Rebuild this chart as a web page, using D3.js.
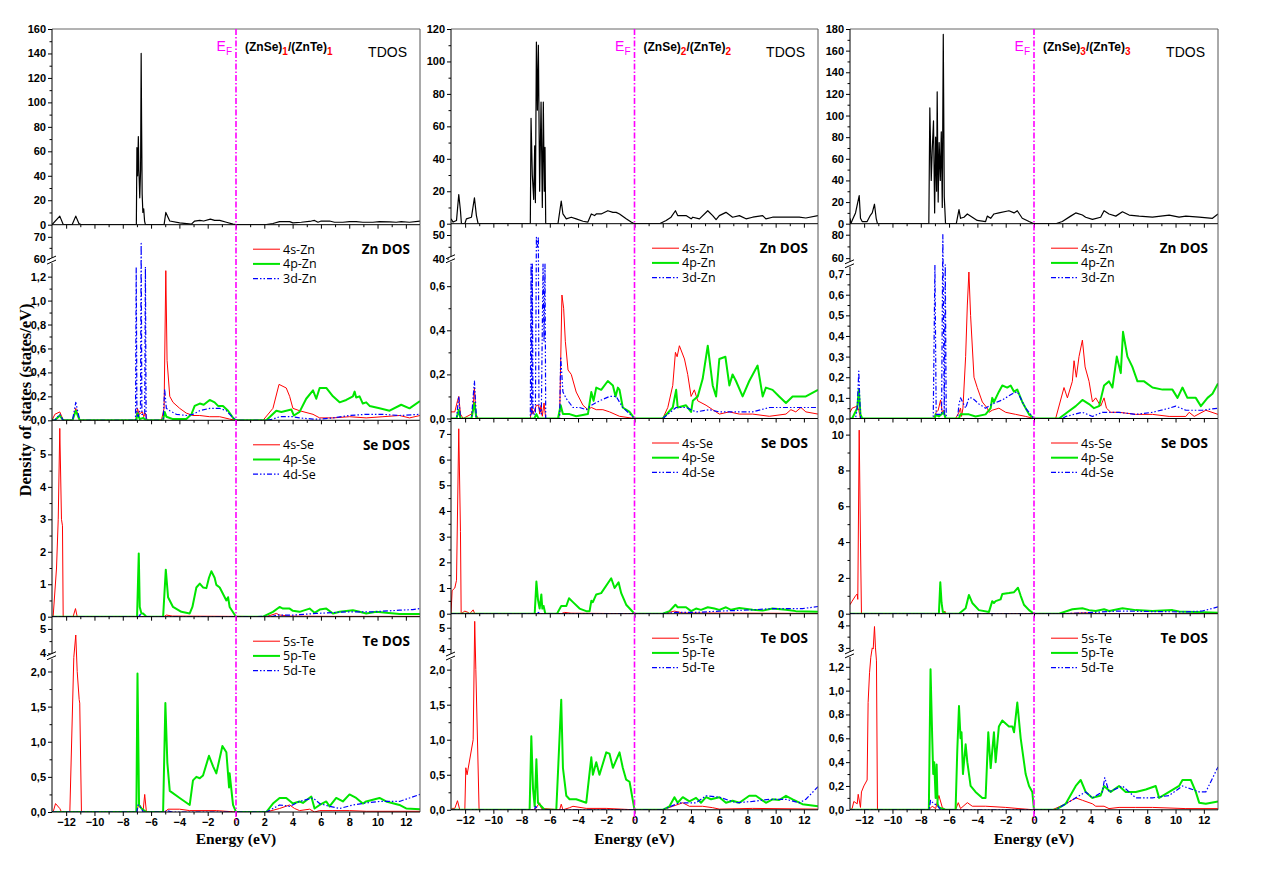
<!DOCTYPE html>
<html>
<head>
<meta charset="utf-8">
<script src="https://cdn.jsdelivr.net/npm/d3@7"></script>
<style>
  body { margin: 0; background: #fff; }
  svg { display: block; }
</style>
</head>
<body>
<svg id="chart" width="1269" height="888"></svg>
<script>
// ---- data: [energy (eV), DOS] ----

// (ZnSe)1/(ZnTe)1
var tdos1 = [[-13,0],[-12.45,7],[-12.2,0],[-11.58,0],[-11.32,7],[-11.1,1],[-10.92,0],[-7.04,0],[-7.0,63],[-6.95,40],[-6.9,72],[-6.86,45],[-6.8,22],[-6.74,45],[-6.7,140],[-6.67,83],[-6.63,25],[-6.58,10],[-6.52,13],[-6.46,3],[-6.4,0],[-5.08,0],[-4.96,10],[-4.68,3],[-3.98,1.5],[-3.15,0.5],[-2.92,3],[-2.56,3.5],[-2.28,3],[-1.81,4.5],[-1.51,3.5],[-1.15,3.5],[-0.68,2],[-0.21,0.5],[0,0],[2.14,0],[2.61,1],[3.08,2.5],[3.79,2.5],[4.02,1.5],[4.61,2],[5.32,3],[5.55,3.5],[5.79,2],[6.02,3],[6.61,3],[6.96,2],[7.55,2],[8.02,2.5],[8.49,2.5],[8.96,2],[9.67,2],[10.14,2.5],[10.85,2.3],[11.32,2],[11.67,2.5],[12.26,2],[13,3]];
var zn4s1 = [[-13,0],[-12.8,0.05],[-12.45,0.07],[-12.2,0],[-11.55,0],[-11.32,0.1],[-11.04,0],[-7.08,0],[-6.96,0.1],[-6.85,0.05],[-6.61,0.07],[-6.52,0.03],[-6.4,0.06],[-6.28,0],[-5.27,0],[-5.08,0.1],[-4.96,1.25],[-4.87,0.5],[-4.68,0.2],[-4.45,0.15],[-3.98,0.1],[-3.51,0.06],[-3.04,0.04],[-2.56,0.04],[-1.86,0.03],[-1.15,0.03],[-0.45,0.01],[0,0],[1.91,0],[2.61,0.1],[3.04,0.3],[3.55,0.27],[3.79,0.2],[4.02,0.1],[4.49,0.08],[5.44,0.05],[5.91,0.02],[6.85,0.02],[8.02,0.03],[9.2,0.02],[10.38,0.03],[11.55,0.04],[12.26,0.02],[13,0.04]];
var zn4p1 = [[-13,0],[-12.8,0],[-12.45,0.04],[-12.21,0],[-11.55,0],[-11.32,0.08],[-11.04,0],[-7.04,0],[-6.96,0.06],[-6.8,0.01],[-6.56,0.02],[-6.33,0],[-5.15,0],[-5.04,0.07],[-4.92,0.03],[-4.45,0.01],[-3.51,0.01],[-3.15,0.05],[-2.92,0.12],[-2.56,0.14],[-2.28,0.13],[-1.86,0.17],[-1.51,0.15],[-1.27,0.12],[-0.92,0.12],[-0.56,0.08],[-0.21,0.02],[0,0],[2.14,0],[2.85,0.08],[3.2,0.07],[3.91,0.09],[4.09,0.04],[4.49,0.07],[4.96,0.18],[5.44,0.25],[5.67,0.18],[5.91,0.27],[6.38,0.27],[6.85,0.2],[7.32,0.15],[7.79,0.17],[8.26,0.2],[8.38,0.24],[8.49,0.19],[8.73,0.2],[8.96,0.14],[9.2,0.15],[9.44,0.12],[10.14,0.1],[10.85,0.08],[11.67,0.13],[12.26,0.1],[13,0.16]];
var zn3d1 = [[-13,0],[-12.8,0],[-12.45,0.05],[-12.21,0],[-11.55,0],[-11.32,0.15],[-11.04,0],[-7.1,0],[-7.05,1.28],[-7.0,0.05],[-6.9,0.03],[-6.75,0.1],[-6.7,67],[-6.65,0.05],[-6.45,0.05],[-6.4,1.28],[-6.35,0],[-5.15,0],[-5.04,0.26],[-4.92,0.1],[-4.68,0.08],[-4.21,0.05],[-3.51,0.04],[-3.04,0.05],[-2.56,0.08],[-1.86,0.1],[-1.15,0.1],[-0.68,0.08],[-0.45,0.05],[0,0],[2.14,0],[2.61,0.01],[3.08,0.03],[4.02,0.03],[4.49,0.02],[5.44,0.01],[5.91,0.01],[6.85,0.02],[8.02,0.04],[9.2,0.05],[10.38,0.05],[11.55,0.04],[13,0.05]];
var se4s1 = [[-13,0],[-12.92,0],[-12.68,1.5],[-12.56,3],[-12.45,5.8],[-12.33,3],[-12.26,2.8],[-12.21,0],[-11.51,0],[-11.34,0.25],[-11.22,0],[-5.1,0],[-4.92,0.05],[-4.5,0.02],[0,0.01],[2.14,0],[2.85,0.1],[3.08,0.05],[3.79,0.02],[6.85,0.01],[13,0.01]];
var se4p1 = [[-13,0],[-6.99,0],[-6.87,1.95],[-6.8,0.3],[-6.68,0.1],[-6.56,0.1],[-6.45,0.05],[-6.33,0],[-5.15,0],[-4.96,1.45],[-4.8,0.6],[-4.45,0.3],[-3.86,0.15],[-3.27,0.1],[-3.08,0.3],[-2.8,0.9],[-2.56,1.02],[-2.33,0.9],[-2.09,0.88],[-1.91,1.2],[-1.74,1.4],[-1.51,1.2],[-1.39,0.98],[-1.15,0.9],[-0.68,0.5],[-0.56,0.6],[-0.45,0.3],[0,0],[1.91,0],[2.61,0.15],[3.08,0.3],[3.32,0.25],[3.79,0.25],[4.02,0.18],[4.49,0.15],[5.2,0.25],[5.55,0.12],[5.91,0.22],[6.38,0.25],[6.85,0.1],[7.32,0.15],[8.26,0.2],[8.73,0.15],[9.2,0.1],[9.91,0.15],[10.61,0.12],[11.55,0.08],[13,0.08]];
var se4d1 = [[-13,0],[-6.85,0],[-6.8,0.1],[-6.7,0],[0,0],[2.61,0.01],[2.85,0.05],[4.02,0.05],[5.67,0.1],[7.79,0.15],[9.67,0.15],[11.55,0.2],[12.49,0.22],[13,0.25]];
var te5s1 = [[-13,0],[-12.92,0],[-12.75,0.12],[-12.45,0.05],[-12.33,0],[-11.74,0],[-11.46,2.2],[-11.32,4.75],[-11.22,2.0],[-11.08,1.6],[-11.04,1.55],[-10.92,0],[-7.0,0],[-6.92,0.08],[-6.8,0.1],[-6.56,0.02],[-6.45,0.25],[-6.33,0],[-5.04,0],[-4.8,0.04],[-3.98,0.04],[-3.27,0.02],[-1.39,0.02],[0,0],[2.14,0],[3.08,0.05],[3.79,0.1],[4.14,0.05],[4.49,0.02],[5.2,0.04],[5.55,0],[5.91,0.02],[6.85,0.02],[8.02,0.02],[9.2,0.01],[13,0.01]];
var te5p1 = [[-13,0],[-7.04,0],[-6.96,1.97],[-6.85,0.1],[-6.68,0.05],[-6.33,0],[-5.15,0],[-4.99,1.55],[-4.85,0.7],[-4.68,0.3],[-3.98,0.2],[-3.27,0.1],[-3.04,0.45],[-2.8,0.5],[-2.56,0.48],[-2.33,0.52],[-1.91,0.8],[-1.62,0.65],[-1.39,0.55],[-0.96,0.94],[-0.68,0.85],[-0.49,0.35],[-0.45,0.55],[-0.21,0.1],[0,0],[2.14,0],[2.61,0.12],[3.08,0.2],[3.55,0.2],[4.02,0.12],[4.49,0.15],[4.73,0.13],[5.32,0.22],[5.55,0.05],[5.91,0.1],[6.38,0.15],[6.61,0.08],[7.08,0.2],[7.55,0.15],[8.02,0.25],[8.49,0.2],[8.96,0.12],[9.2,0.15],[10.14,0.2],[10.61,0.15],[11.55,0.1],[12.02,0.05],[13,0.04]];
var te5d1 = [[-13,0],[-7.0,0],[-6.92,0.1],[-6.68,0.05],[-6.56,0],[-5.04,0],[-4.92,0.02],[-4.5,0],[0,0],[2.14,0],[3.08,0.1],[3.79,0.08],[4.49,0.15],[5.44,0.2],[5.91,0.12],[6.61,0.08],[7.32,0.05],[8.26,0.1],[9.2,0.13],[10.14,0.15],[11.55,0.15],[12.26,0.2],[13,0.25]];

// (ZnSe)2/(ZnTe)2
var tdos2 = [[-13,3],[-12.85,1],[-12.61,2],[-12.45,18],[-12.33,8],[-12.26,0],[-12.02,0],[-11.91,3],[-11.55,4],[-11.34,16],[-11.2,5],[-11.08,0],[-7.38,0],[-7.33,65],[-7.24,30],[-7.14,15],[-7.07,48],[-7.02,13],[-6.95,112],[-6.88,70],[-6.81,110],[-6.72,20],[-6.62,75],[-6.53,10],[-6.46,75],[-6.39,20],[-6.34,47],[-6.29,0],[-5.42,0],[-5.19,14],[-5.07,6],[-4.83,3],[-4.48,4],[-4.13,3],[-3.65,1.5],[-3.3,1],[-3.06,6],[-2.83,5],[-2.71,6],[-2.36,6],[-1.89,8],[-1.53,7],[-1.3,7],[-1.06,6],[-0.59,3],[-0.24,1],[0,0],[1.77,0],[2.24,2],[2.59,4],[2.9,8],[3.06,5],[3.65,5],[4.01,3],[4.13,4],[4.6,3],[5.19,8],[5.54,5],[5.78,2.5],[6.01,5],[6.48,7],[6.95,4],[7.43,5],[7.9,3],[8.37,4],[9.08,5],[9.31,3],[9.78,4],[10.73,4],[11.67,4],[12.14,3.5],[13,5]];
var zn4s2 = [[-13,0.03],[-12.73,0.03],[-12.54,0.08],[-12.45,0.1],[-12.33,0.02],[-12.14,0],[-11.55,0.02],[-11.43,0.05],[-11.34,0.14],[-11.24,0.02],[-11.08,0],[-7.38,0],[-7.28,0.05],[-7.19,0.02],[-6.95,0.06],[-6.79,0.06],[-6.72,0.02],[-6.62,0.06],[-6.53,0.01],[-6.41,0.07],[-6.29,0],[-5.42,0],[-5.3,0.02],[-5.14,0.56],[-5.02,0.5],[-4.9,0.35],[-4.71,0.22],[-4.48,0.2],[-4.13,0.12],[-3.65,0.06],[-3.3,0.04],[-3.06,0.05],[-2.71,0.04],[-2.24,0.04],[-1.77,0.03],[-1.06,0.01],[0,0],[2.0,0],[2.36,0.05],[2.71,0.15],[2.9,0.3],[3.02,0.28],[3.18,0.33],[3.54,0.27],[3.77,0.2],[4.01,0.1],[4.24,0.13],[4.48,0.08],[5.07,0.06],[5.54,0.04],[6.01,0.02],[6.72,0.03],[7.43,0.02],[8.37,0.02],[9.55,0.01],[10.73,0.02],[11.08,0.04],[11.43,0.03],[11.79,0.05],[12.14,0.03],[13,0.02]];
var zn4p2 = [[-13,0],[-12.61,0],[-12.45,0.04],[-12.33,0],[-11.55,0],[-11.34,0.07],[-11.2,0],[-7.1,0],[-6.95,0.02],[-6.8,0],[-5.42,0],[-5.23,0.06],[-5.07,0.02],[-4.6,0.02],[-4.13,0.01],[-3.3,0.02],[-3.06,0.12],[-2.9,0.08],[-2.71,0.14],[-2.36,0.13],[-1.89,0.17],[-1.53,0.15],[-1.34,0.1],[-1.18,0.14],[-1.06,0.13],[-0.83,0.05],[-0.35,0.03],[0,0],[2.0,0],[2.71,0.05],[2.95,0.13],[3.06,0.05],[3.65,0.06],[4.01,0.03],[4.13,0.08],[4.48,0.1],[4.83,0.18],[5.19,0.33],[5.54,0.15],[5.78,0.1],[6.01,0.27],[6.44,0.28],[6.72,0.15],[6.95,0.2],[7.19,0.17],[7.66,0.1],[8.13,0.17],[8.72,0.24],[9.08,0.1],[9.31,0.14],[9.78,0.13],[10.25,0.1],[10.73,0.07],[11.2,0.1],[12.14,0.1],[13,0.13]];
var zn3d2 = [[-13,0],[-12.61,0],[-12.45,0.1],[-12.33,0],[-11.55,0],[-11.34,0.17],[-11.2,0],[-7.38,0],[-7.33,0.7],[-7.28,0.02],[-7.24,0.7],[-7.19,0.02],[-7.02,0.02],[-6.95,49],[-6.88,45],[-6.81,49],[-6.77,0.05],[-6.6,0.02],[-6.48,0.7],[-6.41,0.35],[-6.34,0.7],[-6.29,0],[-5.3,0],[-5.23,0.28],[-5.07,0.12],[-4.83,0.09],[-4.36,0.05],[-3.89,0.05],[-3.42,0.04],[-3.06,0.06],[-2.48,0.08],[-1.77,0.1],[-1.3,0.1],[-0.83,0.05],[0,0],[2.0,0],[2.95,0.05],[3.65,0.05],[4.36,0.03],[5.3,0.04],[6.01,0.03],[7.19,0.03],[8.37,0.03],[9.55,0.05],[10.73,0.05],[13,0.05]];
var se4s2 = [[-13,0],[-12.92,0.9],[-12.73,1.0],[-12.61,1.3],[-12.45,7.2],[-12.33,3.2],[-12.28,0],[-12.02,0.1],[-11.79,0.05],[-11.67,0],[-11.43,0.15],[-11.32,0],[-5.2,0],[-4.95,0.05],[-4.5,0.02],[0,0],[2.0,0],[2.83,0.1],[3.42,0.03],[13,0.01]];
var se4p2 = [[-13,0],[-7.07,0],[-6.95,1.25],[-6.84,0.55],[-6.72,0.2],[-6.6,0.75],[-6.53,0.2],[-6.44,0.3],[-6.32,0],[-5.49,0],[-5.19,0.3],[-4.83,0.3],[-4.64,0.6],[-4.36,0.45],[-3.89,0.2],[-3.42,0.1],[-3.18,0.1],[-3.06,0.5],[-2.95,0.45],[-2.71,0.75],[-2.36,0.8],[-1.65,1.38],[-1.41,1.0],[-1.13,1.22],[-0.94,0.8],[-0.59,0.35],[0,0],[2.0,0],[2.48,0.1],[2.9,0.35],[3.06,0.25],[3.65,0.25],[4.01,0.1],[4.36,0.2],[4.71,0.15],[5.19,0.25],[5.66,0.2],[6.01,0.15],[6.48,0.25],[6.84,0.15],[7.43,0.22],[8.37,0.15],[9.08,0.12],[9.78,0.2],[10.73,0.15],[11.43,0.1],[13,0.08]];
var se4d2 = [[-13,0],[-6.9,0],[-6.8,0.05],[-6.7,0],[0,0],[2.0,0],[2.9,0.05],[4.36,0.05],[6.01,0.1],[8.37,0.15],[9.78,0.2],[11.9,0.2],[13,0.28]];
var te5s2 = [[-13,0],[-12.92,0.02],[-12.73,0.02],[-12.54,0.13],[-12.38,0],[-12.02,0],[-11.95,0.6],[-11.86,0.5],[-11.43,1.0],[-11.32,5.3],[-11.24,2.0],[-11.01,0],[-7.07,0],[-6.72,0.1],[-6.6,0.02],[-5.3,0],[-5.19,0.08],[-5.07,0],[-4.6,0.03],[-4.36,0.05],[-3.42,0.02],[-2.0,0.02],[0,0],[2.0,0],[2.71,0.05],[3.42,0.1],[3.89,0.05],[4.83,0.05],[5.54,0.03],[6.01,0.01],[8.37,0.02],[13,0.01]];
var te5p2 = [[-13,0],[-7.43,0],[-7.31,1.05],[-7.19,0.3],[-7.07,0.05],[-6.95,0.72],[-6.84,0.1],[-6.6,0.05],[-6.37,0],[-5.54,0],[-5.19,1.57],[-5.07,0.6],[-4.83,0.2],[-4.6,0.15],[-4.13,0.15],[-3.42,0.1],[-3.06,0.75],[-2.95,0.5],[-2.71,0.68],[-2.48,0.5],[-2.0,0.82],[-1.77,0.8],[-1.53,0.6],[-1.06,0.82],[-0.83,0.6],[-0.59,0.43],[-0.35,0.4],[0,0],[2.0,0],[2.48,0.05],[2.83,0.18],[3.06,0.1],[3.42,0.18],[3.89,0.12],[4.36,0.17],[4.71,0.1],[5.07,0.18],[5.42,0.15],[6.01,0.18],[6.48,0.1],[6.95,0.13],[7.43,0.1],[8.13,0.2],[8.6,0.2],[9.31,0.1],[9.78,0.15],[10.25,0.14],[10.73,0.2],[11.2,0.15],[11.9,0.08],[13,0.05]];
var te5d2 = [[-13,0],[-7.1,0],[-7.0,0.05],[-6.8,0],[0,0],[2.0,0],[3.18,0.1],[4.36,0.1],[5.07,0.2],[6.01,0.18],[7.19,0.1],[8.37,0.12],[9.55,0.15],[10.73,0.15],[11.67,0.1],[12.14,0.15],[13,0.33]];

// (ZnSe)3/(ZnTe)3
var tdos3 = [[-13,5],[-12.94,0],[-12.85,3],[-12.61,10],[-12.35,26],[-12.26,5],[-12.14,2],[-11.79,2],[-11.55,8],[-11.43,10],[-11.27,18],[-11.15,5],[-11.06,0],[-7.43,0],[-7.36,107],[-7.26,40],[-7.19,68],[-7.1,95],[-7.02,10],[-6.95,80],[-6.88,30],[-6.84,122],[-6.77,20],[-6.7,75],[-6.62,40],[-6.55,85],[-6.48,15],[-6.41,175],[-6.34,25],[-6.25,0],[-5.49,0],[-5.3,13],[-5.19,5],[-4.95,6],[-4.71,9],[-4.36,6],[-4.01,3],[-3.42,2],[-3.3,7],[-3.06,5],[-2.83,9],[-2.48,10],[-1.77,12],[-1.41,10],[-1.18,12],[-0.83,5],[-0.35,2],[0,0],[1.53,0],[2.0,2],[2.59,7],[2.95,10],[3.42,8],[3.65,6],[4.13,4],[4.71,6],[4.95,12],[5.3,9],[5.78,7],[6.25,11],[6.72,8],[7.43,7],[8.37,6],[9.55,8],[10.25,6],[10.73,7],[11.67,6],[12.61,5],[13,9]];
var zn4s3 = [[-13,0.03],[-12.85,0.05],[-12.49,0.06],[-12.38,0.04],[-12.26,0],[-7.07,0],[-6.91,0.03],[-6.77,0.04],[-6.6,0.09],[-6.48,0.03],[-6.37,0.04],[-6.25,0],[-5.54,0],[-5.3,0.03],[-5.19,0.05],[-5.12,0.01],[-5.02,0.05],[-4.83,0.3],[-4.71,0.55],[-4.6,0.71],[-4.48,0.5],[-4.24,0.2],[-4.01,0.15],[-3.65,0.08],[-3.3,0.05],[-3.18,0.03],[-2.95,0.04],[-2.48,0.05],[-2.0,0.03],[-1.3,0.02],[-0.59,0.01],[0,0],[1.53,0],[2.12,0.15],[2.36,0.1],[2.71,0.18],[2.83,0.28],[2.99,0.2],[3.18,0.3],[3.42,0.38],[3.61,0.25],[3.89,0.18],[4.13,0.08],[4.36,0.1],[4.71,0.06],[4.95,0.1],[5.12,0.05],[5.42,0.03],[6.01,0.03],[7.19,0.02],[8.37,0.02],[9.55,0.01],[10.73,0.01],[10.96,0.03],[11.32,0.01],[12.14,0.04],[13,0.02]];
var zn4p3 = [[-13,0],[-12.85,0],[-12.49,0.05],[-12.38,0.14],[-12.26,0.02],[-12.14,0],[-7.0,0],[-6.95,0.02],[-6.72,0.01],[-6.37,0.03],[-6.25,0],[-5.3,0],[-5.2,0.02],[-4.6,0.02],[-4.13,0.01],[-3.42,0.02],[-3.06,0.05],[-2.95,0.1],[-2.83,0.08],[-2.48,0.13],[-2.24,0.16],[-1.89,0.15],[-1.65,0.16],[-1.41,0.13],[-1.18,0.14],[-0.83,0.08],[-0.35,0.02],[0,0],[1.77,0],[2.36,0.03],[2.95,0.06],[3.42,0.09],[3.89,0.07],[4.24,0.05],[4.6,0.06],[4.95,0.16],[5.3,0.18],[5.54,0.15],[5.85,0.3],[6.13,0.22],[6.29,0.42],[6.6,0.3],[6.95,0.25],[7.31,0.18],[7.78,0.18],[8.37,0.15],[9.08,0.14],[9.78,0.14],[10.14,0.1],[10.49,0.15],[10.84,0.1],[11.43,0.1],[11.79,0.06],[12.26,0.1],[12.61,0.12],[13,0.17]];
var zn3d3 = [[-13,0],[-12.61,0],[-12.49,0.05],[-12.38,0.23],[-12.26,0],[-7.12,0],[-7.0,0.75],[-6.91,0.02],[-6.53,0.02],[-6.44,80],[-6.34,0.02],[-6.27,0.75],[-6.2,0],[-5.4,0],[-5.3,0.07],[-5.19,0.1],[-4.83,0.05],[-4.6,0.1],[-4.36,0.1],[-3.89,0.07],[-3.42,0.05],[-2.95,0.07],[-2.24,0.09],[-1.53,0.12],[-1.18,0.13],[-0.59,0.05],[0,0],[2.0,0],[2.24,0.01],[3.42,0.03],[4.13,0.01],[4.83,0.03],[6.01,0.03],[7.19,0.02],[8.37,0.03],[9.55,0.05],[10.02,0.06],[10.73,0.04],[11.9,0.04],[13,0.05]];
var se4s3 = [[-13,0.5],[-12.85,0.7],[-12.61,1.0],[-12.49,1.1],[-12.45,0.8],[-12.35,10.25],[-12.26,4.0],[-12.19,0],[-6.37,0],[-6.3,0.15],[-6.25,0],[0,0],[2.0,0],[3.65,0.05],[4.5,0],[13,0]];
var se4p3 = [[-13,0],[-6.72,0],[-6.62,1.75],[-6.53,0.6],[-6.44,0.1],[-6.25,0],[-5.3,0],[-4.83,0.3],[-4.6,1.05],[-4.36,0.6],[-3.89,0.2],[-3.18,0.1],[-2.95,0.7],[-2.83,0.6],[-2.71,0.7],[-2.36,0.8],[-2.24,1.1],[-1.77,1.15],[-1.41,1.2],[-1.13,1.45],[-0.94,1.0],[-0.71,0.5],[-0.35,0.2],[0,0],[1.77,0],[2.71,0.25],[3.42,0.3],[3.89,0.2],[4.36,0.15],[4.95,0.25],[5.3,0.15],[6.25,0.3],[7.19,0.2],[8.37,0.15],[9.78,0.2],[10.25,0.12],[11.43,0.1],[13,0.05]];
var se4d3 = [[-13,0],[-6.5,0],[0,0],[2.0,0],[3.65,0.05],[6.01,0.15],[8.37,0.12],[10.73,0.1],[11.9,0.15],[13,0.38]];
var te5s3 = [[-13,0],[-12.85,0.01],[-12.73,0.07],[-12.49,0.05],[-12.42,0.13],[-12.26,0.02],[-12.19,0.15],[-12.02,0.2],[-11.79,0.25],[-11.72,0.9],[-11.62,1.15],[-11.53,1.28],[-11.43,3.0],[-11.36,2.95],[-11.27,3.95],[-11.2,3.0],[-11.13,1.25],[-11.06,0],[-7.43,0],[-7.19,0.03],[-6.95,0.01],[-6.72,0.12],[-6.48,0.02],[-6.25,0],[-5.54,0],[-5.35,0.06],[-5.19,0.01],[-4.71,0.06],[-4.36,0.03],[-3.42,0.03],[-2.0,0.02],[-1.06,0.01],[0,0],[1.3,0],[2.24,0.05],[2.95,0.1],[3.42,0.08],[4.13,0.05],[4.36,0.03],[4.95,0.03],[5.3,0.01],[6.01,0.02],[7.19,0.02],[8.37,0.02],[10.73,0.01],[13,0.01]];
var te5p3 = [[-13,0],[-7.43,0],[-7.31,1.18],[-7.19,0.6],[-7.12,0.3],[-7.05,0.4],[-6.95,0.1],[-6.88,0.38],[-6.81,0.05],[-6.72,0.02],[-6.25,0],[-5.54,0],[-5.42,0.5],[-5.3,0.87],[-5.19,0.6],[-5.12,0.65],[-5.02,0.3],[-4.83,0.55],[-4.71,0.4],[-4.48,0.2],[-4.13,0.15],[-3.65,0.1],[-3.42,0.1],[-3.23,0.65],[-3.06,0.35],[-2.83,0.65],[-2.71,0.4],[-2.48,0.7],[-2.24,0.75],[-1.77,0.7],[-1.53,0.7],[-1.41,0.65],[-1.18,0.9],[-0.94,0.6],[-0.59,0.3],[-0.35,0.2],[-0.12,0.15],[0,0],[1.53,0],[2.24,0.05],[2.95,0.2],[3.3,0.25],[3.65,0.15],[4.13,0.1],[4.71,0.12],[4.95,0.2],[5.42,0.15],[6.01,0.2],[6.48,0.15],[7.19,0.15],[7.9,0.17],[8.6,0.2],[8.84,0.1],[9.55,0.15],[10.25,0.2],[10.49,0.25],[11.08,0.25],[11.43,0.15],[11.67,0.06],[12.14,0.05],[13,0.07]];
var te5d3 = [[-13,0],[-7.4,0],[-7.31,0.08],[-7.07,0.05],[-6.84,0.04],[-6.6,0],[0,0],[1.5,0],[2.24,0.05],[2.95,0.1],[3.65,0.15],[4.13,0.1],[4.83,0.15],[5.0,0.27],[5.3,0.15],[6.25,0.2],[7.19,0.1],[8.37,0.1],[9.55,0.12],[10.49,0.2],[11.67,0.15],[12.14,0.15],[13,0.36]];

var subscripts = ["1", "2", "3"];
var rowTitles = ["TDOS", "Zn DOS", "Se DOS", "Te DOS"];
var legendNames = [null, ["4s-Zn", "4p-Zn", "3d-Zn"], ["4s-Se", "4p-Se", "4d-Se"], ["5s-Te", "5p-Te", "5d-Te"]];
var xMajor = [-12, -10, -8, -6, -4, -2, 0, 2, 4, 6, 8, 10, 12];
var xMinor = [-11, -9, -7, -5, -3, -1, 1, 3, 5, 7, 9, 11];

function steps(n, d) { return d3.range(n).map(function (i) { return +(i * d).toFixed(3); }); }

// y axis set-up per panel (broken axes have a low and a high segment)
var columns = [
    { left: 52, right: 420, edges: [29, 224.7, 420.3, 616.7, 812],
      series: [[tdos1], [zn4s1, zn4p1, zn3d1], [se4s1, se4p1, se4d1], [te5s1, te5p1, te5d1]],
      y: [
        { max: 160, major: steps(9, 20), minor: steps(8, 20).map(function (v) { return v + 10; }) },
        { lowMax: 1.33, upMin: 59, upMax: 75.5, frac: 0.814, dec: true, major: steps(7, 0.2).concat([60, 70]), minor: [0.1, 0.3, 0.5, 0.7, 0.9, 1.1, 65] },
        { max: 6.05, major: steps(6, 1), minor: steps(6, 1).map(function (v) { return v + 0.5; }) },
        { lowMax: 2.21, upMin: 3.86, upMax: 5.5, frac: 0.795, dec: true, major: steps(5, 0.5).concat([4, 5]), minor: [0.25, 0.75, 1.25, 1.75, 4.5] }
      ] },
    { left: 451, right: 818, edges: [29, 223.7, 418.5, 613.7, 809.8],
      series: [[tdos2], [zn4s2, zn4p2, zn3d2], [se4s2, se4p2, se4d2], [te5s2, te5p2, te5d2]],
      y: [
        { max: 120, major: steps(7, 20), minor: steps(6, 20).map(function (v) { return v + 10; }) },
        { lowMax: 0.72, upMin: 39.5, upMax: 54.8, frac: 0.815, dec: true, major: steps(4, 0.2).concat([40, 50]), minor: [0.1, 0.3, 0.5, 45] },
        { max: 7.6, major: steps(8, 1), minor: steps(8, 1).map(function (v) { return v + 0.5; }) },
        { lowMax: 2.18, upMin: 3.62, upMax: 5.66, frac: 0.779, dec: true, major: steps(5, 0.5).concat([4, 5]), minor: [0.25, 0.75, 1.25, 1.75, 4.5] }
      ] },
    { left: 850, right: 1218, edges: [29, 223.7, 418.5, 613.7, 809.8],
      series: [[tdos3], [zn4s3, zn4p3, zn3d3], [se4s3, se4p3, se4d3], [te5s3, te5p3, te5d3]],
      y: [
        { max: 180, major: steps(10, 20), minor: steps(9, 20).map(function (v) { return v + 10; }) },
        { lowMax: 0.745, upMin: 54.3, upMax: 89.4, frac: 0.789, dec: true, major: steps(8, 0.1).concat([60, 80]), minor: [0.05, 0.15, 0.25, 0.35, 0.45, 0.55, 0.65, 70] },
        { max: 10.9, major: steps(6, 2), minor: [1, 3, 5, 7, 9] },
        { lowMax: 1.30, upMin: 2.69, upMax: 4.52, frac: 0.79, dec: true, major: steps(7, 0.2).concat([3, 4]), minor: [0.1, 0.3, 0.5, 0.7, 0.9, 1.1, 3.5] }
      ] }
];

var styles = [
    { stroke: "#ff0000", width: 1, dash: null },
    { stroke: "#00e600", width: 2, dash: null },
    { stroke: "#0000ff", width: 1.2, dash: "5,2,1.5,2,1.5,2" }
];
var tdosStyle = { stroke: "#000", width: 1.2, dash: null };

var svg = d3.select("#chart");
var axisFont = "Arial, 'Liberation Sans', sans-serif";

function makeY(spec, top, bottom) {
    if (spec.lowMax === undefined) return d3.scaleLinear().domain([0, spec.max]).range([bottom, top]);
    var yb = bottom - spec.frac * (bottom - top);
    return d3.scaleLinear().domain([0, spec.lowMax, spec.upMin, spec.upMax]).range([bottom, yb, yb, top]);
}

function styleAxis(g) {
    g.attr("font-family", axisFont).attr("font-size", 11).attr("font-weight", "bold");
    g.select(".domain").remove();
    g.selectAll("line").attr("stroke", "#000");
    g.selectAll("text").attr("fill", "#000");
}

columns.forEach(function (col, c) {
    var x = d3.scaleLinear().domain([-13, 13]).range([col.left, col.right]);
    var x0 = x(0);

    for (var r = 0; r < 4; r++) {
        var top = col.edges[r], bottom = col.edges[r + 1];
        var spec = col.y[r];
        var y = makeY(spec, top, bottom);
        var clipId = "clip" + c + r;

        svg.append("clipPath").attr("id", clipId)
            .append("rect").attr("x", col.left).attr("y", top)
            .attr("width", col.right - col.left).attr("height", bottom - top);

        var line = d3.line().x(function (d) { return x(d[0]); }).y(function (d) { return y(d[1]); });
        var g = svg.append("g").attr("clip-path", "url(#" + clipId + ")");
        col.series[r].forEach(function (data, i) {
            var st = r === 0 ? tdosStyle : styles[i];
            g.append("path").datum(data).attr("d", line)
                .attr("fill", "none").attr("stroke", st.stroke)
                .attr("stroke-width", st.width).attr("stroke-linejoin", "round")
                .attr("stroke-dasharray", st.dash);
        });

        // frame
        svg.append("line").attr("x1", col.right).attr("x2", col.right).attr("y1", top).attr("y2", bottom)
            .attr("stroke", "#555").attr("stroke-width", 1);
        if (r === 0) {
            svg.append("line").attr("x1", col.left).attr("x2", col.right).attr("y1", top).attr("y2", top)
                .attr("stroke", "#666").attr("stroke-width", 1);
        }
        svg.append("line").attr("x1", col.left).attr("x2", col.left).attr("y1", top).attr("y2", bottom)
            .attr("stroke", "#000").attr("stroke-width", 1);
        svg.append("line").attr("x1", col.left).attr("x2", col.right).attr("y1", bottom).attr("y2", bottom)
            .attr("stroke", "#000").attr("stroke-width", 1);

        // y axis
        var fmt = (function (s) {
            return function (v) {
                if (s.dec && v < s.lowMax) return d3.format(".1f")(v).replace(".", ",");
                return d3.format("d")(v);
            };
        })(spec);
        svg.append("g").attr("transform", "translate(" + col.left + ",0)")
            .call(d3.axisLeft(y).tickValues(spec.major).tickSize(4).tickPadding(2).tickFormat(fmt))
            .call(styleAxis);
        svg.append("g").attr("transform", "translate(" + col.left + ",0)")
            .call(d3.axisLeft(y).tickValues(spec.minor).tickSize(2.5).tickFormat(""))
            .call(styleAxis);

        // break marks
        if (spec.lowMax !== undefined) {
            var yb = y(spec.lowMax);
            svg.append("rect").attr("x", col.left - 2).attr("y", yb - 3).attr("width", 4).attr("height", 5).attr("fill", "#fff");
            [0, 4].forEach(function (o) {
                svg.append("line").attr("x1", col.left - 5).attr("y1", yb - 1 + o)
                    .attr("x2", col.left + 4).attr("y2", yb - 5 + o)
                    .attr("stroke", "#000").attr("stroke-width", 1);
            });
        }

        // x axis ticks
        var last = r === 3;
        svg.append("g").attr("transform", "translate(0," + bottom + ")")
            .call(d3.axisBottom(x).tickValues(xMajor).tickSize(4).tickPadding(2)
                .tickFormat(last ? d3.format("d") : ""))
            .call(styleAxis);
        svg.append("g").attr("transform", "translate(0," + bottom + ")")
            .call(d3.axisBottom(x).tickValues(xMinor).tickSize(2.5).tickFormat(""))
            .call(styleAxis);

        // panel labels and legends
        if (r === 0) {
            svg.append("text").attr("x", col.right - 13).attr("y", top + 28)
                .attr("text-anchor", "end").attr("font-family", axisFont).attr("font-size", 14)
                .text(rowTitles[0]);
        } else {
            svg.append("text").attr("x", col.right - 10).attr("y", top + 29.5)
                .attr("text-anchor", "end").attr("font-family", "'Open Sans', sans-serif")
                .attr("font-weight", "bold").attr("font-size", 13.5)
                .text(rowTitles[r]);
            legendNames[r].forEach(function (name, i) {
                var ly = top + 24.5 + i * 14.7;
                var st = styles[i];
                svg.append("line").attr("x1", col.left + 201).attr("x2", col.left + 228)
                    .attr("y1", ly).attr("y2", ly)
                    .attr("stroke", st.stroke).attr("stroke-width", st.width)
                    .attr("stroke-dasharray", st.dash);
                svg.append("text").attr("x", col.left + 231).attr("y", ly + 4.5)
                    .attr("font-family", "'Open Sans', sans-serif").attr("font-size", 12.5)
                    .attr("fill", "#000").text(name);
            });
        }
    }

    // Fermi level
    svg.append("line").attr("x1", x0).attr("x2", x0)
        .attr("y1", col.edges[0]).attr("y2", col.edges[4] + 11)
        .attr("stroke", "#ff00ff").attr("stroke-width", 1.6)
        .attr("stroke-dasharray", "6,2,1.5,2");

    var ef = svg.append("text").attr("x", x0 - 4).attr("y", 51)
        .attr("text-anchor", "end").attr("font-family", axisFont).attr("font-size", 14).attr("fill", "#ff00ff");
    ef.append("tspan").text("E");
    ef.append("tspan").attr("font-size", 10).attr("dy", 4).text("F");

    var t = svg.append("text").attr("x", x0 + 9).attr("y", 50.5)
        .attr("font-family", axisFont).attr("font-size", 12).attr("font-weight", "bold").attr("fill", "#000");
    t.append("tspan").text("(ZnSe)");
    t.append("tspan").attr("font-size", 10).attr("dy", 4).attr("fill", "#ff0000").text(subscripts[c]);
    t.append("tspan").attr("dy", -4).text("/(ZnTe)");
    t.append("tspan").attr("font-size", 10).attr("dy", 4).attr("fill", "#ff0000").text(subscripts[c]);

    // x axis title
    svg.append("text").attr("x", x0).attr("y", 844)
        .attr("text-anchor", "middle").attr("font-family", "'Times New Roman', 'Liberation Serif', serif")
        .attr("font-weight", "bold").attr("font-size", 15.5).text("Energy (eV)");
});

// y axis title
svg.append("text").attr("transform", "translate(31,400) rotate(-90)")
    .attr("text-anchor", "middle").attr("font-family", "'Times New Roman', 'Liberation Serif', serif")
    .attr("font-weight", "bold").attr("font-size", 16.5).text("Density of states (states/eV)");
</script>
</body>
</html>
